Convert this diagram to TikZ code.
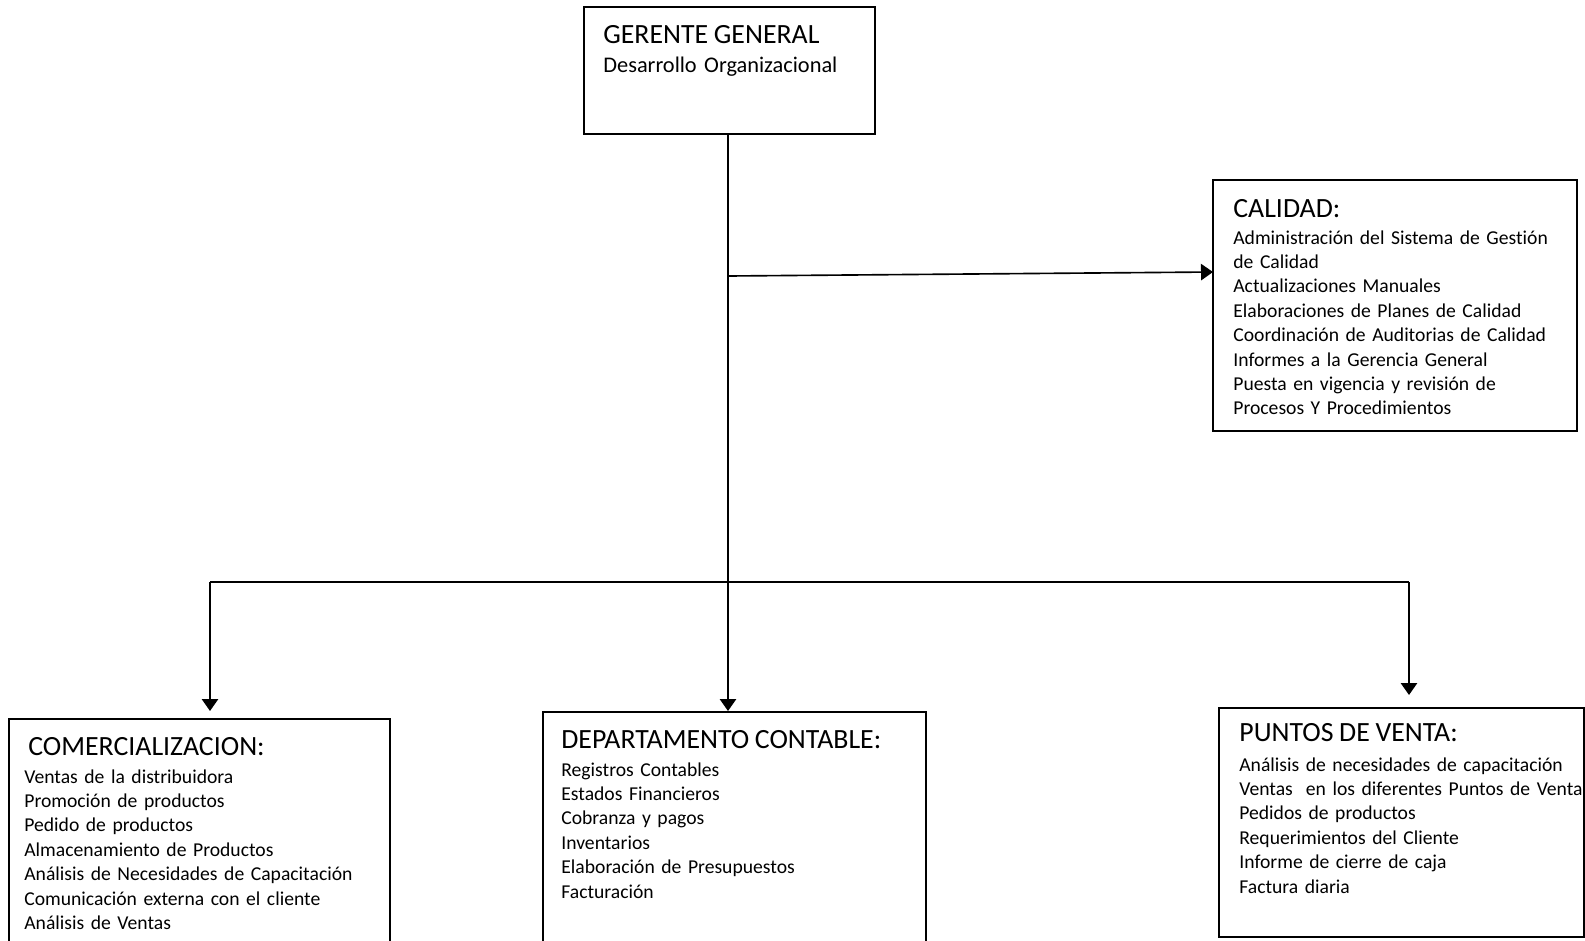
\documentclass[tikz,border=0pt]{standalone}
\usepackage{fontspec}
\setmainfont{Carlito}[Ligatures=NoCommon,WordSpace=0.9]
\usetikzlibrary{arrows.meta,fit,calc}
\begin{document}
\begin{tikzpicture}[x=0.55pt,y=-0.55pt,
  box/.style={draw=black,line width=1pt,inner sep=0pt,fill=none},
  title/.style={anchor=base west,inner sep=0pt,font=\fontsize{15.3}{18}\selectfont},
  body/.style={anchor=base west,inner sep=0pt,text width=210pt,align=left,
    font=\fontsize{10.8}{13.42}\selectfont},
  link/.style={line width=0.9pt,-{Triangle[length=6.6pt,width=9pt]}},
  wire/.style={line width=0.9pt}]
\useasboundingbox (0,0) rectangle (1585,941);
\clip (0,0) rectangle (1585,941);

% boxes
\node[box,fit={(584,7) (875,134)}] (ger) {};
\node[box,fit={(1213,180) (1577,431)}] (cal) {};
\node[box,fit={(9,719) (390,980)}] (com) {};
\node[box,fit={(543,712) (926,980)}] (dep) {};
\node[box,fit={(1219,708) (1584,937)}] (pun) {};

% texts
\node[title] (gert) at (603,43) {GERENTE GENERAL};
\node[body,font=\fontsize{12.3}{14}\selectfont] (gerb) at (603,72) {Desarrollo Organizacional};

\node[title] (calt) at (1233,217) {CALIDAD:};
\node[body] (calb) at (1233,244) {Administración del Sistema de Gestión\\de Calidad\\Actualizaciones Manuales\\Elaboraciones de Planes de Calidad\\Coordinación de Auditorias de Calidad\\Informes a la Gerencia General\\Puesta en vigencia y revisión de\\Procesos Y Procedimientos};

\node[title] (comt) at (28,755) {COMERCIALIZACION:};
\node[body] (comb) at (24,783) {Ventas de la distribuidora\\Promoción de productos\\Pedido de productos\\Almacenamiento de Productos\\Análisis de Necesidades de Capacitación\\Comunicación externa con el cliente\\Análisis de Ventas};

\node[title] (dept) at (561,748) {DEPARTAMENTO CONTABLE:};
\node[body] (depb) at (561,776) {Registros Contables\\Estados Financieros\\Cobranza y pagos\\Inventarios\\Elaboración de Presupuestos\\Facturación};

\node[title] (punt) at (1239,741) {PUNTOS DE VENTA:};
\node[body] (punb) at (1239,771) {Análisis de necesidades de capacitación\\Ventas\ \ en los diferentes Puntos de Venta\\Pedidos de productos\\Requerimientos del Cliente\\Informe de cierre de caja\\Factura diaria};

% junction points of the connectors
\coordinate (jcal) at (728,276);
\coordinate (calin) at (1213,272);
\coordinate (busl) at (210,582);
\coordinate (busr) at (1409,582);
\coordinate (comin) at (210,711);
\coordinate (depin) at (728,711);
\coordinate (punin) at (1409,695);

% connectors
\draw[link] (ger.south -| depin) -- (depin);
\draw[link] (jcal) -- (calin);
\draw[wire] (busl) -- (busr);
\draw[link] (busl) -- (comin);
\draw[link] (busr) -- (punin);
\end{tikzpicture}
\end{document}
